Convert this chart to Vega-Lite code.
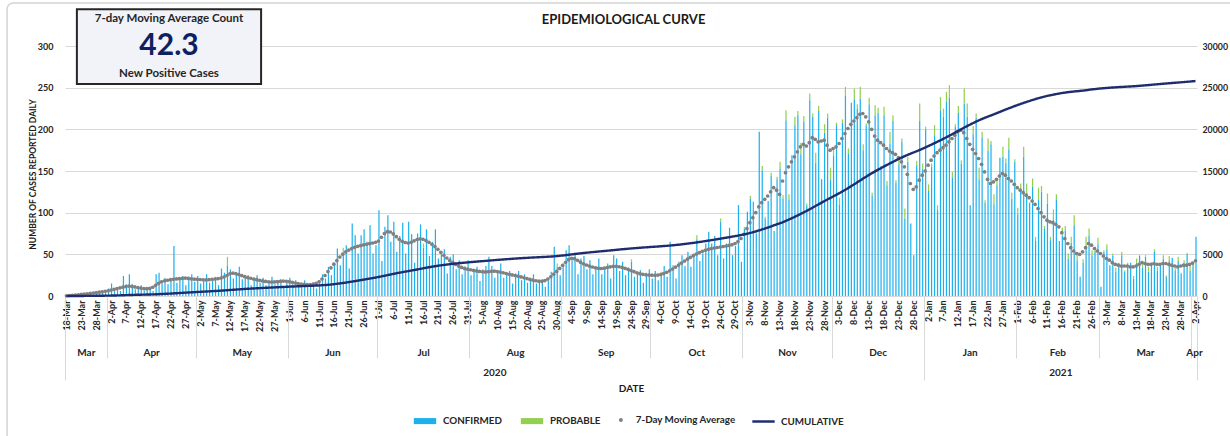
{
"$schema":"https://vega.github.io/schema/vega-lite/v6.json",
"width":1132,"height":250,"autosize":"none",
"padding":{"left":65,"top":46,"right":33,"bottom":140},
"background":"white",
"config":{"font":"Lato","view":{"stroke":null},"axis":{"labelFont":"Lato","titleFont":"Lato"},"legend":{"labelFont":"Lato"},"text":{"font":"Lato"}},
"data":{"values":[
{"date":"2020-03-18","confirmed":1,"probable":0,"ma":0.3,"cumulative":1},
{"date":"2020-03-19","confirmed":0,"probable":0,"ma":0.6,"cumulative":2},
{"date":"2020-03-20","confirmed":1,"probable":0,"ma":0.9,"cumulative":3},
{"date":"2020-03-21","confirmed":2,"probable":0,"ma":1.1,"cumulative":4},
{"date":"2020-03-22","confirmed":1,"probable":0,"ma":1.4,"cumulative":5},
{"date":"2020-03-23","confirmed":2,"probable":0,"ma":1.9,"cumulative":7},
{"date":"2020-03-24","confirmed":3,"probable":0,"ma":2.3,"cumulative":9},
{"date":"2020-03-25","confirmed":1,"probable":0,"ma":2.7,"cumulative":12},
{"date":"2020-03-26","confirmed":4,"probable":0,"ma":3.1,"cumulative":15},
{"date":"2020-03-27","confirmed":5,"probable":0,"ma":3.6,"cumulative":19},
{"date":"2020-03-28","confirmed":3,"probable":0,"ma":4.1,"cumulative":23},
{"date":"2020-03-29","confirmed":4,"probable":0,"ma":4.6,"cumulative":28},
{"date":"2020-03-30","confirmed":6,"probable":0,"ma":5.1,"cumulative":33},
{"date":"2020-03-31","confirmed":4,"probable":0,"ma":5.7,"cumulative":39},
{"date":"2020-04-01","confirmed":9,"probable":0,"ma":6.3,"cumulative":45},
{"date":"2020-04-02","confirmed":15,"probable":0,"ma":7.1,"cumulative":52},
{"date":"2020-04-03","confirmed":8,"probable":0,"ma":8,"cumulative":60},
{"date":"2020-04-04","confirmed":10,"probable":0,"ma":8.9,"cumulative":69},
{"date":"2020-04-05","confirmed":6,"probable":0,"ma":9.8,"cumulative":79},
{"date":"2020-04-06","confirmed":24,"probable":0,"ma":10.6,"cumulative":90},
{"date":"2020-04-07","confirmed":14,"probable":0,"ma":11.4,"cumulative":101},
{"date":"2020-04-08","confirmed":26,"probable":0,"ma":11.9,"cumulative":113},
{"date":"2020-04-09","confirmed":14,"probable":0,"ma":11.6,"cumulative":125},
{"date":"2020-04-10","confirmed":8,"probable":0,"ma":10.9,"cumulative":136},
{"date":"2020-04-11","confirmed":11,"probable":0,"ma":10.2,"cumulative":146},
{"date":"2020-04-12","confirmed":13,"probable":0,"ma":9.5,"cumulative":156},
{"date":"2020-04-13","confirmed":7,"probable":0,"ma":9,"cumulative":165},
{"date":"2020-04-14","confirmed":8,"probable":0,"ma":8.8,"cumulative":174},
{"date":"2020-04-15","confirmed":10,"probable":0,"ma":9.1,"cumulative":183},
{"date":"2020-04-16","confirmed":6,"probable":0,"ma":10.5,"cumulative":193},
{"date":"2020-04-17","confirmed":26,"probable":0,"ma":12.8,"cumulative":206},
{"date":"2020-04-18","confirmed":28,"probable":0,"ma":15.2,"cumulative":221},
{"date":"2020-04-19","confirmed":15,"probable":0,"ma":17.1,"cumulative":238},
{"date":"2020-04-20","confirmed":22,"probable":0,"ma":18.3,"cumulative":256},
{"date":"2020-04-21","confirmed":14,"probable":0,"ma":18.9,"cumulative":275},
{"date":"2020-04-22","confirmed":21,"probable":0,"ma":19.6,"cumulative":295},
{"date":"2020-04-23","confirmed":60,"probable":0,"ma":20.1,"cumulative":315},
{"date":"2020-04-24","confirmed":16,"probable":0,"ma":20.5,"cumulative":335},
{"date":"2020-04-25","confirmed":20,"probable":0,"ma":20.8,"cumulative":356},
{"date":"2020-04-26","confirmed":24,"probable":0,"ma":21.2,"cumulative":377},
{"date":"2020-04-27","confirmed":13,"probable":0,"ma":21.5,"cumulative":399},
{"date":"2020-04-28","confirmed":23,"probable":0,"ma":21.1,"cumulative":420},
{"date":"2020-04-29","confirmed":26,"probable":0,"ma":20.6,"cumulative":441},
{"date":"2020-04-30","confirmed":17,"probable":0,"ma":20.2,"cumulative":461},
{"date":"2020-05-01","confirmed":24,"probable":0,"ma":20,"cumulative":481},
{"date":"2020-05-02","confirmed":15,"probable":0,"ma":19.8,"cumulative":501},
{"date":"2020-05-03","confirmed":20,"probable":0,"ma":19.5,"cumulative":520},
{"date":"2020-05-04","confirmed":26,"probable":0,"ma":19.3,"cumulative":539},
{"date":"2020-05-05","confirmed":16,"probable":0,"ma":19.6,"cumulative":559},
{"date":"2020-05-06","confirmed":19,"probable":0,"ma":20.1,"cumulative":579},
{"date":"2020-05-07","confirmed":23,"probable":0,"ma":20.4,"cumulative":599},
{"date":"2020-05-08","confirmed":13,"probable":0,"ma":20.9,"cumulative":620},
{"date":"2020-05-09","confirmed":33,"probable":0,"ma":21.6,"cumulative":642},
{"date":"2020-05-10","confirmed":28,"probable":0,"ma":22.8,"cumulative":665},
{"date":"2020-05-11","confirmed":36,"probable":11,"ma":24.6,"cumulative":690},
{"date":"2020-05-12","confirmed":32,"probable":0,"ma":26.7,"cumulative":717},
{"date":"2020-05-13","confirmed":21,"probable":0,"ma":27.4,"cumulative":744},
{"date":"2020-05-14","confirmed":28,"probable":0,"ma":26.9,"cumulative":771},
{"date":"2020-05-15","confirmed":35,"probable":0,"ma":25.8,"cumulative":797},
{"date":"2020-05-16","confirmed":20,"probable":0,"ma":24.5,"cumulative":822},
{"date":"2020-05-17","confirmed":22,"probable":0,"ma":23.2,"cumulative":845},
{"date":"2020-05-18","confirmed":25,"probable":0,"ma":22.1,"cumulative":867},
{"date":"2020-05-19","confirmed":13,"probable":0,"ma":21.3,"cumulative":888},
{"date":"2020-05-20","confirmed":22,"probable":0,"ma":20.4,"cumulative":908},
{"date":"2020-05-21","confirmed":25,"probable":0,"ma":19.6,"cumulative":928},
{"date":"2020-05-22","confirmed":16,"probable":0,"ma":18.8,"cumulative":947},
{"date":"2020-05-23","confirmed":22,"probable":0,"ma":18.1,"cumulative":965},
{"date":"2020-05-24","confirmed":13,"probable":0,"ma":17.5,"cumulative":982},
{"date":"2020-05-25","confirmed":18,"probable":0,"ma":17.1,"cumulative":999},
{"date":"2020-05-26","confirmed":23,"probable":0,"ma":16.8,"cumulative":1016},
{"date":"2020-05-27","confirmed":14,"probable":0,"ma":16.9,"cumulative":1033},
{"date":"2020-05-28","confirmed":16,"probable":0,"ma":17.2,"cumulative":1050},
{"date":"2020-05-29","confirmed":20,"probable":0,"ma":17.6,"cumulative":1068},
{"date":"2020-05-30","confirmed":11,"probable":0,"ma":17.9,"cumulative":1086},
{"date":"2020-05-31","confirmed":19,"probable":0,"ma":17.7,"cumulative":1104},
{"date":"2020-06-01","confirmed":22,"probable":0,"ma":17.2,"cumulative":1121},
{"date":"2020-06-02","confirmed":14,"probable":0,"ma":16.4,"cumulative":1137},
{"date":"2020-06-03","confirmed":19,"probable":0,"ma":15.6,"cumulative":1153},
{"date":"2020-06-04","confirmed":11,"probable":0,"ma":14.9,"cumulative":1168},
{"date":"2020-06-05","confirmed":15,"probable":0,"ma":14.3,"cumulative":1182},
{"date":"2020-06-06","confirmed":19,"probable":0,"ma":13.9,"cumulative":1196},
{"date":"2020-06-07","confirmed":11,"probable":0,"ma":13.6,"cumulative":1210},
{"date":"2020-06-08","confirmed":13,"probable":0,"ma":13.8,"cumulative":1224},
{"date":"2020-06-09","confirmed":16,"probable":0,"ma":14.3,"cumulative":1238},
{"date":"2020-06-10","confirmed":9,"probable":0,"ma":15.2,"cumulative":1253},
{"date":"2020-06-11","confirmed":19,"probable":0,"ma":17.1,"cumulative":1270},
{"date":"2020-06-12","confirmed":26,"probable":0,"ma":20.4,"cumulative":1290},
{"date":"2020-06-13","confirmed":21,"probable":0,"ma":24.6,"cumulative":1315},
{"date":"2020-06-14","confirmed":35,"probable":0,"ma":29.3,"cumulative":1344},
{"date":"2020-06-15","confirmed":25,"probable":0,"ma":33.8,"cumulative":1378},
{"date":"2020-06-16","confirmed":40,"probable":0,"ma":38.2,"cumulative":1416},
{"date":"2020-06-17","confirmed":57,"probable":0,"ma":42.5,"cumulative":1459},
{"date":"2020-06-18","confirmed":37,"probable":0,"ma":46.8,"cumulative":1506},
{"date":"2020-06-19","confirmed":48,"probable":10,"ma":50.2,"cumulative":1556},
{"date":"2020-06-20","confirmed":61,"probable":0,"ma":52.9,"cumulative":1609},
{"date":"2020-06-21","confirmed":33,"probable":0,"ma":55.1,"cumulative":1664},
{"date":"2020-06-22","confirmed":87,"probable":0,"ma":56.9,"cumulative":1721},
{"date":"2020-06-23","confirmed":73,"probable":0,"ma":58.4,"cumulative":1779},
{"date":"2020-06-24","confirmed":51,"probable":0,"ma":59.6,"cumulative":1839},
{"date":"2020-06-25","confirmed":73,"probable":0,"ma":60.5,"cumulative":1899},
{"date":"2020-06-26","confirmed":80,"probable":0,"ma":61.3,"cumulative":1960},
{"date":"2020-06-27","confirmed":65,"probable":0,"ma":62.1,"cumulative":2022},
{"date":"2020-06-28","confirmed":85,"probable":0,"ma":62.9,"cumulative":2085},
{"date":"2020-06-29","confirmed":51,"probable":0,"ma":63.6,"cumulative":2149},
{"date":"2020-06-30","confirmed":61,"probable":0,"ma":64.5,"cumulative":2213},
{"date":"2020-07-01","confirmed":103,"probable":0,"ma":66,"cumulative":2279},
{"date":"2020-07-02","confirmed":42,"probable":0,"ma":70.5,"cumulative":2350},
{"date":"2020-07-03","confirmed":83,"probable":0,"ma":75,"cumulative":2425},
{"date":"2020-07-04","confirmed":97,"probable":0,"ma":77.2,"cumulative":2502},
{"date":"2020-07-05","confirmed":65,"probable":0,"ma":76.8,"cumulative":2579},
{"date":"2020-07-06","confirmed":89,"probable":0,"ma":74.5,"cumulative":2653},
{"date":"2020-07-07","confirmed":53,"probable":0,"ma":71.2,"cumulative":2724},
{"date":"2020-07-08","confirmed":72,"probable":0,"ma":68.1,"cumulative":2792},
{"date":"2020-07-09","confirmed":88,"probable":0,"ma":65.7,"cumulative":2858},
{"date":"2020-07-10","confirmed":51,"probable":0,"ma":64.2,"cumulative":2922},
{"date":"2020-07-11","confirmed":89,"probable":0,"ma":63.6,"cumulative":2986},
{"date":"2020-07-12","confirmed":74,"probable":0,"ma":64.5,"cumulative":3050},
{"date":"2020-07-13","confirmed":40,"probable":0,"ma":66.2,"cumulative":3116},
{"date":"2020-07-14","confirmed":75,"probable":0,"ma":67.8,"cumulative":3184},
{"date":"2020-07-15","confirmed":86,"probable":0,"ma":68.6,"cumulative":3253},
{"date":"2020-07-16","confirmed":58,"probable":5,"ma":68.1,"cumulative":3321},
{"date":"2020-07-17","confirmed":80,"probable":0,"ma":66.5,"cumulative":3388},
{"date":"2020-07-18","confirmed":48,"probable":0,"ma":64.4,"cumulative":3452},
{"date":"2020-07-19","confirmed":65,"probable":0,"ma":62.1,"cumulative":3514},
{"date":"2020-07-20","confirmed":80,"probable":0,"ma":59.3,"cumulative":3573},
{"date":"2020-07-21","confirmed":45,"probable":0,"ma":56,"cumulative":3629},
{"date":"2020-07-22","confirmed":50,"probable":0,"ma":52.4,"cumulative":3681},
{"date":"2020-07-23","confirmed":56,"probable":0,"ma":48.9,"cumulative":3730},
{"date":"2020-07-24","confirmed":27,"probable":0,"ma":45.6,"cumulative":3776},
{"date":"2020-07-25","confirmed":47,"probable":0,"ma":42.7,"cumulative":3819},
{"date":"2020-07-26","confirmed":50,"probable":0,"ma":40.1,"cumulative":3859},
{"date":"2020-07-27","confirmed":32,"probable":0,"ma":37.8,"cumulative":3897},
{"date":"2020-07-28","confirmed":43,"probable":0,"ma":35.9,"cumulative":3933},
{"date":"2020-07-29","confirmed":26,"probable":0,"ma":34.3,"cumulative":3967},
{"date":"2020-07-30","confirmed":35,"probable":0,"ma":33.1,"cumulative":4000},
{"date":"2020-07-31","confirmed":43,"probable":0,"ma":32.2,"cumulative":4032},
{"date":"2020-08-01","confirmed":25,"probable":0,"ma":31.5,"cumulative":4064},
{"date":"2020-08-02","confirmed":29,"probable":0,"ma":30.8,"cumulative":4095},
{"date":"2020-08-03","confirmed":35,"probable":0,"ma":30.1,"cumulative":4125},
{"date":"2020-08-04","confirmed":18,"probable":0,"ma":29.5,"cumulative":4154},
{"date":"2020-08-05","confirmed":32,"probable":0,"ma":29.1,"cumulative":4183},
{"date":"2020-08-06","confirmed":36,"probable":0,"ma":28.9,"cumulative":4212},
{"date":"2020-08-07","confirmed":47,"probable":0,"ma":29.2,"cumulative":4241},
{"date":"2020-08-08","confirmed":36,"probable":0,"ma":29.6,"cumulative":4271},
{"date":"2020-08-09","confirmed":22,"probable":0,"ma":29.8,"cumulative":4301},
{"date":"2020-08-10","confirmed":31,"probable":0,"ma":29.4,"cumulative":4330},
{"date":"2020-08-11","confirmed":39,"probable":0,"ma":28.7,"cumulative":4359},
{"date":"2020-08-12","confirmed":22,"probable":0,"ma":27.9,"cumulative":4387},
{"date":"2020-08-13","confirmed":26,"probable":0,"ma":27,"cumulative":4414},
{"date":"2020-08-14","confirmed":30,"probable":0,"ma":26.1,"cumulative":4440},
{"date":"2020-08-15","confirmed":15,"probable":0,"ma":25.3,"cumulative":4465},
{"date":"2020-08-16","confirmed":27,"probable":0,"ma":24.6,"cumulative":4490},
{"date":"2020-08-17","confirmed":30,"probable":0,"ma":23.8,"cumulative":4514},
{"date":"2020-08-18","confirmed":19,"probable":0,"ma":22.9,"cumulative":4537},
{"date":"2020-08-19","confirmed":26,"probable":0,"ma":21.9,"cumulative":4559},
{"date":"2020-08-20","confirmed":16,"probable":0,"ma":20.9,"cumulative":4580},
{"date":"2020-08-21","confirmed":21,"probable":0,"ma":19.9,"cumulative":4600},
{"date":"2020-08-22","confirmed":26,"probable":0,"ma":19,"cumulative":4619},
{"date":"2020-08-23","confirmed":15,"probable":0,"ma":18.3,"cumulative":4637},
{"date":"2020-08-24","confirmed":17,"probable":0,"ma":17.8,"cumulative":4655},
{"date":"2020-08-25","confirmed":20,"probable":0,"ma":17.6,"cumulative":4673},
{"date":"2020-08-26","confirmed":11,"probable":0,"ma":18.5,"cumulative":4691},
{"date":"2020-08-27","confirmed":22,"probable":0,"ma":20.4,"cumulative":4711},
{"date":"2020-08-28","confirmed":29,"probable":0,"ma":23.1,"cumulative":4734},
{"date":"2020-08-29","confirmed":59,"probable":0,"ma":26.2,"cumulative":4760},
{"date":"2020-08-30","confirmed":35,"probable":4,"ma":29.5,"cumulative":4790},
{"date":"2020-08-31","confirmed":25,"probable":0,"ma":33.1,"cumulative":4823},
{"date":"2020-09-01","confirmed":39,"probable":0,"ma":36.8,"cumulative":4860},
{"date":"2020-09-02","confirmed":55,"probable":0,"ma":40.5,"cumulative":4900},
{"date":"2020-09-03","confirmed":61,"probable":0,"ma":43.6,"cumulative":4944},
{"date":"2020-09-04","confirmed":43,"probable":0,"ma":45.2,"cumulative":4989},
{"date":"2020-09-05","confirmed":52,"probable":0,"ma":44.8,"cumulative":5034},
{"date":"2020-09-06","confirmed":26,"probable":0,"ma":42.9,"cumulative":5077},
{"date":"2020-09-07","confirmed":45,"probable":0,"ma":40.6,"cumulative":5118},
{"date":"2020-09-08","confirmed":48,"probable":0,"ma":38.7,"cumulative":5157},
{"date":"2020-09-09","confirmed":32,"probable":0,"ma":37.2,"cumulative":5194},
{"date":"2020-09-10","confirmed":43,"probable":0,"ma":35.9,"cumulative":5230},
{"date":"2020-09-11","confirmed":26,"probable":0,"ma":34.8,"cumulative":5265},
{"date":"2020-09-12","confirmed":36,"probable":0,"ma":33.9,"cumulative":5299},
{"date":"2020-09-13","confirmed":45,"probable":0,"ma":33.2,"cumulative":5332},
{"date":"2020-09-14","confirmed":26,"probable":0,"ma":33,"cumulative":5365},
{"date":"2020-09-15","confirmed":32,"probable":0,"ma":33.4,"cumulative":5398},
{"date":"2020-09-16","confirmed":39,"probable":0,"ma":34.2,"cumulative":5432},
{"date":"2020-09-17","confirmed":21,"probable":0,"ma":35,"cumulative":5467},
{"date":"2020-09-18","confirmed":49,"probable":0,"ma":35.5,"cumulative":5503},
{"date":"2020-09-19","confirmed":45,"probable":0,"ma":35.6,"cumulative":5539},
{"date":"2020-09-20","confirmed":30,"probable":0,"ma":35.1,"cumulative":5574},
{"date":"2020-09-21","confirmed":41,"probable":0,"ma":34.3,"cumulative":5608},
{"date":"2020-09-22","confirmed":25,"probable":0,"ma":33.2,"cumulative":5641},
{"date":"2020-09-23","confirmed":34,"probable":0,"ma":32,"cumulative":5673},
{"date":"2020-09-24","confirmed":41,"probable":3,"ma":30.6,"cumulative":5704},
{"date":"2020-09-25","confirmed":23,"probable":0,"ma":29.2,"cumulative":5733},
{"date":"2020-09-26","confirmed":27,"probable":0,"ma":27.9,"cumulative":5761},
{"date":"2020-09-27","confirmed":31,"probable":0,"ma":26.8,"cumulative":5788},
{"date":"2020-09-28","confirmed":16,"probable":0,"ma":26,"cumulative":5814},
{"date":"2020-09-29","confirmed":28,"probable":0,"ma":25.5,"cumulative":5840},
{"date":"2020-09-30","confirmed":32,"probable":0,"ma":25.2,"cumulative":5865},
{"date":"2020-10-01","confirmed":21,"probable":0,"ma":25,"cumulative":5890},
{"date":"2020-10-02","confirmed":30,"probable":0,"ma":24.9,"cumulative":5915},
{"date":"2020-10-03","confirmed":19,"probable":0,"ma":25.1,"cumulative":5940},
{"date":"2020-10-04","confirmed":27,"probable":2,"ma":25.8,"cumulative":5966},
{"date":"2020-10-05","confirmed":36,"probable":0,"ma":26.9,"cumulative":5993},
{"date":"2020-10-06","confirmed":23,"probable":0,"ma":28.4,"cumulative":6021},
{"date":"2020-10-07","confirmed":65,"probable":0,"ma":30.3,"cumulative":6051},
{"date":"2020-10-08","confirmed":37,"probable":0,"ma":32.4,"cumulative":6083},
{"date":"2020-10-09","confirmed":21,"probable":0,"ma":34.7,"cumulative":6118},
{"date":"2020-10-10","confirmed":41,"probable":0,"ma":37.1,"cumulative":6155},
{"date":"2020-10-11","confirmed":49,"probable":0,"ma":39.5,"cumulative":6195},
{"date":"2020-10-12","confirmed":36,"probable":0,"ma":41.9,"cumulative":6237},
{"date":"2020-10-13","confirmed":53,"probable":0,"ma":44.2,"cumulative":6281},
{"date":"2020-10-14","confirmed":35,"probable":0,"ma":46.4,"cumulative":6327},
{"date":"2020-10-15","confirmed":51,"probable":0,"ma":48.5,"cumulative":6376},
{"date":"2020-10-16","confirmed":68,"probable":5,"ma":50.4,"cumulative":6426},
{"date":"2020-10-17","confirmed":42,"probable":0,"ma":52.1,"cumulative":6478},
{"date":"2020-10-18","confirmed":51,"probable":0,"ma":53.6,"cumulative":6532},
{"date":"2020-10-19","confirmed":63,"probable":0,"ma":54.9,"cumulative":6587},
{"date":"2020-10-20","confirmed":77,"probable":0,"ma":56,"cumulative":6643},
{"date":"2020-10-21","confirmed":63,"probable":0,"ma":56.9,"cumulative":6700},
{"date":"2020-10-22","confirmed":72,"probable":0,"ma":57.6,"cumulative":6758},
{"date":"2020-10-23","confirmed":49,"probable":0,"ma":58.2,"cumulative":6816},
{"date":"2020-10-24","confirmed":89,"probable":4,"ma":58.8,"cumulative":6875},
{"date":"2020-10-25","confirmed":45,"probable":0,"ma":59.4,"cumulative":6934},
{"date":"2020-10-26","confirmed":63,"probable":0,"ma":60,"cumulative":6994},
{"date":"2020-10-27","confirmed":82,"probable":0,"ma":60.7,"cumulative":7055},
{"date":"2020-10-28","confirmed":49,"probable":0,"ma":61.6,"cumulative":7117},
{"date":"2020-10-29","confirmed":60,"probable":0,"ma":63,"cumulative":7180},
{"date":"2020-10-30","confirmed":109,"probable":0,"ma":65.3,"cumulative":7245},
{"date":"2020-10-31","confirmed":41,"probable":0,"ma":69,"cumulative":7314},
{"date":"2020-11-01","confirmed":81,"probable":2,"ma":74,"cumulative":7388},
{"date":"2020-11-02","confirmed":101,"probable":0,"ma":81,"cumulative":7469},
{"date":"2020-11-03","confirmed":117,"probable":3,"ma":88,"cumulative":7557},
{"date":"2020-11-04","confirmed":113,"probable":0,"ma":94,"cumulative":7651},
{"date":"2020-11-05","confirmed":75,"probable":4,"ma":100,"cumulative":7751},
{"date":"2020-11-06","confirmed":197,"probable":0,"ma":107,"cumulative":7858},
{"date":"2020-11-07","confirmed":151,"probable":5,"ma":112,"cumulative":7970},
{"date":"2020-11-08","confirmed":93,"probable":2,"ma":116,"cumulative":8086},
{"date":"2020-11-09","confirmed":114,"probable":0,"ma":120,"cumulative":8206},
{"date":"2020-11-10","confirmed":144,"probable":4,"ma":125,"cumulative":8331},
{"date":"2020-11-11","confirmed":78,"probable":0,"ma":130,"cumulative":8461},
{"date":"2020-11-12","confirmed":140,"probable":3,"ma":127,"cumulative":8588},
{"date":"2020-11-13","confirmed":153,"probable":8,"ma":122,"cumulative":8710},
{"date":"2020-11-14","confirmed":117,"probable":4,"ma":138,"cumulative":8848},
{"date":"2020-11-15","confirmed":211,"probable":12,"ma":148,"cumulative":8996},
{"date":"2020-11-16","confirmed":116,"probable":6,"ma":155,"cumulative":9151},
{"date":"2020-11-17","confirmed":169,"probable":0,"ma":161,"cumulative":9312},
{"date":"2020-11-18","confirmed":205,"probable":10,"ma":167,"cumulative":9479},
{"date":"2020-11-19","confirmed":217,"probable":5,"ma":173,"cumulative":9652},
{"date":"2020-11-20","confirmed":170,"probable":14,"ma":179,"cumulative":9831},
{"date":"2020-11-21","confirmed":209,"probable":7,"ma":182,"cumulative":10013},
{"date":"2020-11-22","confirmed":108,"probable":3,"ma":180,"cumulative":10193},
{"date":"2020-11-23","confirmed":235,"probable":8,"ma":184,"cumulative":10377},
{"date":"2020-11-24","confirmed":215,"probable":4,"ma":190,"cumulative":10578},
{"date":"2020-11-25","confirmed":160,"probable":12,"ma":188,"cumulative":10777},
{"date":"2020-11-26","confirmed":222,"probable":6,"ma":185,"cumulative":10974},
{"date":"2020-11-27","confirmed":140,"probable":0,"ma":186,"cumulative":11171},
{"date":"2020-11-28","confirmed":196,"probable":10,"ma":187,"cumulative":11369},
{"date":"2020-11-29","confirmed":214,"probable":5,"ma":181,"cumulative":11562},
{"date":"2020-11-30","confirmed":140,"probable":14,"ma":175,"cumulative":11748},
{"date":"2020-12-01","confirmed":168,"probable":7,"ma":177,"cumulative":11936},
{"date":"2020-12-02","confirmed":205,"probable":3,"ma":179,"cumulative":12126},
{"date":"2020-12-03","confirmed":110,"probable":8,"ma":183,"cumulative":12321},
{"date":"2020-12-04","confirmed":208,"probable":4,"ma":189,"cumulative":12521},
{"date":"2020-12-05","confirmed":240,"probable":11,"ma":195,"cumulative":12727},
{"date":"2020-12-06","confirmed":171,"probable":6,"ma":201,"cumulative":12939},
{"date":"2020-12-07","confirmed":232,"probable":0,"ma":206,"cumulative":13157},
{"date":"2020-12-08","confirmed":236,"probable":13,"ma":210,"cumulative":13378},
{"date":"2020-12-09","confirmed":225,"probable":5,"ma":214,"cumulative":13603},
{"date":"2020-12-10","confirmed":237,"probable":14,"ma":218,"cumulative":13832},
{"date":"2020-12-11","confirmed":175,"probable":7,"ma":219,"cumulative":14063},
{"date":"2020-12-12","confirmed":204,"probable":3,"ma":215,"cumulative":14289},
{"date":"2020-12-13","confirmed":230,"probable":8,"ma":209,"cumulative":14509},
{"date":"2020-12-14","confirmed":120,"probable":4,"ma":200,"cumulative":14720},
{"date":"2020-12-15","confirmed":217,"probable":12,"ma":192,"cumulative":14924},
{"date":"2020-12-16","confirmed":220,"probable":6,"ma":187,"cumulative":15122},
{"date":"2020-12-17","confirmed":156,"probable":0,"ma":184,"cumulative":15317},
{"date":"2020-12-18","confirmed":217,"probable":10,"ma":181,"cumulative":15509},
{"date":"2020-12-19","confirmed":133,"probable":5,"ma":177,"cumulative":15698},
{"date":"2020-12-20","confirmed":183,"probable":14,"ma":174,"cumulative":15883},
{"date":"2020-12-21","confirmed":210,"probable":7,"ma":172,"cumulative":16066},
{"date":"2020-12-22","confirmed":136,"probable":3,"ma":170,"cumulative":16247},
{"date":"2020-12-23","confirmed":158,"probable":8,"ma":166,"cumulative":16425},
{"date":"2020-12-24","confirmed":185,"probable":4,"ma":161,"cumulative":16597},
{"date":"2020-12-25","confirmed":93,"probable":12,"ma":155,"cumulative":16763},
{"date":"2020-12-26","confirmed":161,"probable":6,"ma":146,"cumulative":16920},
{"date":"2020-12-27","confirmed":87,"probable":0,"ma":135,"cumulative":17067},
{"date":"2020-12-28","confirmed":49,"probable":0,"ma":128,"cumulative":17206},
{"date":"2020-12-29","confirmed":157,"probable":5,"ma":131,"cumulative":17348},
{"date":"2020-12-30","confirmed":210,"probable":21,"ma":139,"cumulative":17498},
{"date":"2020-12-31","confirmed":152,"probable":7,"ma":145,"cumulative":17655},
{"date":"2021-01-01","confirmed":200,"probable":3,"ma":150,"cumulative":17816},
{"date":"2021-01-02","confirmed":126,"probable":8,"ma":157,"cumulative":17984},
{"date":"2021-01-03","confirmed":155,"probable":4,"ma":163,"cumulative":18147},
{"date":"2021-01-04","confirmed":193,"probable":12,"ma":168,"cumulative":18315},
{"date":"2021-01-05","confirmed":103,"probable":6,"ma":172,"cumulative":18487},
{"date":"2021-01-06","confirmed":223,"probable":16,"ma":175,"cumulative":18662},
{"date":"2021-01-07","confirmed":215,"probable":10,"ma":178,"cumulative":18840},
{"date":"2021-01-08","confirmed":233,"probable":12,"ma":181,"cumulative":19021},
{"date":"2021-01-09","confirmed":238,"probable":15,"ma":185,"cumulative":19206},
{"date":"2021-01-10","confirmed":142,"probable":7,"ma":189,"cumulative":19395},
{"date":"2021-01-11","confirmed":203,"probable":3,"ma":193,"cumulative":19588},
{"date":"2021-01-12","confirmed":220,"probable":8,"ma":197,"cumulative":19785},
{"date":"2021-01-13","confirmed":159,"probable":4,"ma":199,"cumulative":19984},
{"date":"2021-01-14","confirmed":231,"probable":18,"ma":196,"cumulative":20180},
{"date":"2021-01-15","confirmed":215,"probable":16,"ma":189,"cumulative":20369},
{"date":"2021-01-16","confirmed":109,"probable":0,"ma":182,"cumulative":20551},
{"date":"2021-01-17","confirmed":194,"probable":10,"ma":176,"cumulative":20727},
{"date":"2021-01-18","confirmed":214,"probable":5,"ma":171,"cumulative":20898},
{"date":"2021-01-19","confirmed":140,"probable":14,"ma":165,"cumulative":21063},
{"date":"2021-01-20","confirmed":190,"probable":7,"ma":158,"cumulative":21221},
{"date":"2021-01-21","confirmed":112,"probable":3,"ma":149,"cumulative":21370},
{"date":"2021-01-22","confirmed":174,"probable":15,"ma":140,"cumulative":21510},
{"date":"2021-01-23","confirmed":182,"probable":4,"ma":135,"cumulative":21645},
{"date":"2021-01-24","confirmed":110,"probable":12,"ma":137,"cumulative":21782},
{"date":"2021-01-25","confirmed":133,"probable":6,"ma":140,"cumulative":21922},
{"date":"2021-01-26","confirmed":166,"probable":0,"ma":144,"cumulative":22066},
{"date":"2021-01-27","confirmed":167,"probable":12,"ma":147,"cumulative":22213},
{"date":"2021-01-28","confirmed":160,"probable":5,"ma":145,"cumulative":22358},
{"date":"2021-01-29","confirmed":176,"probable":14,"ma":141,"cumulative":22499},
{"date":"2021-01-30","confirmed":117,"probable":7,"ma":138,"cumulative":22637},
{"date":"2021-01-31","confirmed":161,"probable":3,"ma":134,"cumulative":22771},
{"date":"2021-02-01","confirmed":98,"probable":8,"ma":130,"cumulative":22901},
{"date":"2021-02-02","confirmed":125,"probable":10,"ma":127,"cumulative":23028},
{"date":"2021-02-03","confirmed":167,"probable":12,"ma":124,"cumulative":23152},
{"date":"2021-02-04","confirmed":124,"probable":11,"ma":121,"cumulative":23273},
{"date":"2021-02-05","confirmed":112,"probable":0,"ma":118,"cumulative":23391},
{"date":"2021-02-06","confirmed":131,"probable":10,"ma":114,"cumulative":23505},
{"date":"2021-02-07","confirmed":66,"probable":5,"ma":110,"cumulative":23615},
{"date":"2021-02-08","confirmed":116,"probable":14,"ma":105,"cumulative":23720},
{"date":"2021-02-09","confirmed":125,"probable":7,"ma":100,"cumulative":23820},
{"date":"2021-02-10","confirmed":81,"probable":3,"ma":95,"cumulative":23915},
{"date":"2021-02-11","confirmed":111,"probable":12,"ma":91,"cumulative":24006},
{"date":"2021-02-12","confirmed":67,"probable":4,"ma":89,"cumulative":24080},
{"date":"2021-02-13","confirmed":92,"probable":12,"ma":88,"cumulative":24153},
{"date":"2021-02-14","confirmed":116,"probable":6,"ma":86,"cumulative":24224},
{"date":"2021-02-15","confirmed":66,"probable":0,"ma":83,"cumulative":24292},
{"date":"2021-02-16","confirmed":72,"probable":10,"ma":76,"cumulative":24353},
{"date":"2021-02-17","confirmed":79,"probable":5,"ma":69,"cumulative":24407},
{"date":"2021-02-18","confirmed":45,"probable":6,"ma":63,"cumulative":24455},
{"date":"2021-02-19","confirmed":64,"probable":7,"ma":58,"cumulative":24498},
{"date":"2021-02-20","confirmed":85,"probable":12,"ma":54,"cumulative":24537},
{"date":"2021-02-21","confirmed":43,"probable":8,"ma":51,"cumulative":24573},
{"date":"2021-02-22","confirmed":23,"probable":0,"ma":50,"cumulative":24608},
{"date":"2021-02-23","confirmed":40,"probable":4,"ma":53,"cumulative":24646},
{"date":"2021-02-24","confirmed":61,"probable":10,"ma":58,"cumulative":24689},
{"date":"2021-02-25","confirmed":72,"probable":9,"ma":63,"cumulative":24737},
{"date":"2021-02-26","confirmed":49,"probable":6,"ma":61,"cumulative":24783},
{"date":"2021-02-27","confirmed":54,"probable":5,"ma":57,"cumulative":24825},
{"date":"2021-02-28","confirmed":62,"probable":8,"ma":54,"cumulative":24864},
{"date":"2021-03-01","confirmed":11,"probable":0,"ma":51,"cumulative":24900},
{"date":"2021-03-02","confirmed":53,"probable":2,"ma":48,"cumulative":24933},
{"date":"2021-03-03","confirmed":56,"probable":6,"ma":45,"cumulative":24963},
{"date":"2021-03-04","confirmed":37,"probable":0,"ma":43,"cumulative":24991},
{"date":"2021-03-05","confirmed":48,"probable":3,"ma":40,"cumulative":25016},
{"date":"2021-03-06","confirmed":29,"probable":5,"ma":38,"cumulative":25039},
{"date":"2021-03-07","confirmed":39,"probable":1,"ma":37,"cumulative":25061},
{"date":"2021-03-08","confirmed":49,"probable":4,"ma":36,"cumulative":25082},
{"date":"2021-03-09","confirmed":29,"probable":2,"ma":36,"cumulative":25103},
{"date":"2021-03-10","confirmed":34,"probable":6,"ma":36,"cumulative":25124},
{"date":"2021-03-11","confirmed":40,"probable":0,"ma":35,"cumulative":25144},
{"date":"2021-03-12","confirmed":21,"probable":3,"ma":35,"cumulative":25164},
{"date":"2021-03-13","confirmed":40,"probable":5,"ma":36,"cumulative":25185},
{"date":"2021-03-14","confirmed":48,"probable":1,"ma":38,"cumulative":25215},
{"date":"2021-03-15","confirmed":34,"probable":4,"ma":40,"cumulative":25248},
{"date":"2021-03-16","confirmed":47,"probable":2,"ma":39,"cumulative":25279},
{"date":"2021-03-17","confirmed":29,"probable":6,"ma":38,"cumulative":25310},
{"date":"2021-03-18","confirmed":40,"probable":0,"ma":38,"cumulative":25340},
{"date":"2021-03-19","confirmed":53,"probable":3,"ma":39,"cumulative":25372},
{"date":"2021-03-20","confirmed":30,"probable":5,"ma":38,"cumulative":25402},
{"date":"2021-03-21","confirmed":36,"probable":1,"ma":38,"cumulative":25433},
{"date":"2021-03-22","confirmed":45,"probable":4,"ma":39,"cumulative":25464},
{"date":"2021-03-23","confirmed":23,"probable":2,"ma":39,"cumulative":25496},
{"date":"2021-03-24","confirmed":42,"probable":6,"ma":38,"cumulative":25526},
{"date":"2021-03-25","confirmed":46,"probable":0,"ma":37,"cumulative":25556},
{"date":"2021-03-26","confirmed":31,"probable":3,"ma":36,"cumulative":25584},
{"date":"2021-03-27","confirmed":42,"probable":5,"ma":35,"cumulative":25612},
{"date":"2021-03-28","confirmed":27,"probable":1,"ma":36,"cumulative":25640},
{"date":"2021-03-29","confirmed":39,"probable":4,"ma":37,"cumulative":25670},
{"date":"2021-03-30","confirmed":50,"probable":2,"ma":37,"cumulative":25699},
{"date":"2021-03-31","confirmed":30,"probable":6,"ma":38,"cumulative":25730},
{"date":"2021-04-01","confirmed":38,"probable":3,"ma":39.5,"cumulative":25762},
{"date":"2021-04-02","confirmed":71,"probable":0,"ma":42.3,"cumulative":25797}
]},
"resolve":{"scale":{"y":"independent"},"axis":{"x":"independent","y":"independent"}},
"layer":[
{"transform":[{"fold":["confirmed","probable"],"as":["series","value"]}],
 "mark":{"type":"bar","width":{"band":0.75}},
 "encoding":{
  "x":{"field":"date","type":"temporal","timeUnit":"utcyearmonthdate","scale":{"type":"utc","domain":[1584489600000,1617408000000]},
   "axis":{"orient":"bottom","values":[1584532800000,1584964800000,1585396800000,1585828800000,1586260800000,1586692800000,1587124800000,1587556800000,1587988800000,1588420800000,1588852800000,1589284800000,1589716800000,1590148800000,1590580800000,1591012800000,1591444800000,1591876800000,1592308800000,1592740800000,1593172800000,1593604800000,1594036800000,1594468800000,1594900800000,1595332800000,1595764800000,1596196800000,1596628800000,1597060800000,1597492800000,1597924800000,1598356800000,1598788800000,1599220800000,1599652800000,1600084800000,1600516800000,1600948800000,1601380800000,1601812800000,1602244800000,1602676800000,1603108800000,1603540800000,1603972800000,1604404800000,1604836800000,1605268800000,1605700800000,1606132800000,1606564800000,1606996800000,1607428800000,1607860800000,1608292800000,1608724800000,1609156800000,1609588800000,1610020800000,1610452800000,1610884800000,1611316800000,1611748800000,1612180800000,1612612800000,1613044800000,1613476800000,1613908800000,1614340800000,1614772800000,1615204800000,1615636800000,1616068800000,1616500800000,1616932800000,1617364800000],
    "labelExpr":"utcFormat(datum.value, '%-d-%b')","labelAngle":-90,"labelFontSize":9,"labelFontWeight":"bold","labelColor":"#262626","labelPadding":4,"labelOverlap":false,"labelBound":false,"labelFlush":false,"ticks":false,"tickSize":0,"domain":false,"grid":false,
    "title":"DATE","titleFontSize":10,"titleFontWeight":"bold","titleColor":"#1a1a1a","titleX":566,"titleY":92,"titleAlign":"center","titleBaseline":"middle","titleAngle":0}},
  "y":{"field":"value","type":"quantitative","stack":"zero","scale":{"domain":[0,300],"nice":false},
   "axis":{"orient":"left","values":[0,50,100,150,200,250,300],"grid":true,"gridColor":"#d9d9d9","gridWidth":1,"domain":false,"ticks":false,"tickSize":0,"labelPadding":12,"labelFontSize":9,"labelFontWeight":"bold","labelColor":"#262626",
    "title":"NUMBER OF CASES REPORTED DAILY","titleFontSize":8.5,"titleFontWeight":"bold","titleColor":"#1a1a1a","titleX":-33,"titleY":128,"titleAngle":-90,"titleAlign":"center","titleBaseline":"middle"}},
  "order":{"field":"series","type":"nominal","sort":"ascending"},
  "color":{"field":"series","type":"nominal",
   "scale":{"domain":["confirmed","probable"],"range":["#1eb0ed","#92d050"]},
   "legend":{"orient":"none","legendX":348,"legendY":363,"direction":"horizontal","title":null,
    "labelExpr":"datum.label == 'confirmed' ? 'CONFIRMED' : 'PROBABLE'",
    "labelFontSize":9.8,"labelFontWeight":"bold","labelColor":"#262626","symbolType":"M-1,-0.27H1V0.27H-1Z","symbolSize":500,"labelOffset":6,"columnPadding":18}}
 }},
{"mark":{"type":"point","filled":true,"size":14,"opacity":1,"color":"#808080"},
 "encoding":{
  "x":{"field":"date","type":"temporal","timeUnit":"utcyearmonthdate","bandPosition":0.5,"scale":{"type":"utc","domain":[1584489600000,1617408000000]},
   "axis":{"orient":"bottom","values":[1585699200000,1588291200000,1590969600000,1593561600000,1596240000000,1598918400000,1601510400000,1604188800000,1606780800000,1612137600000,1614556800000,1617235200000],"labels":false,"ticks":true,"tickSize":62,"tickColor":"#d9d9d9","tickWidth":1,"domain":false,"grid":false,"title":null}},
  "y":{"field":"ma","type":"quantitative","scale":{"domain":[0,300],"nice":false},"axis":null},
  "shape":{"datum":"7-Day Moving Average","type":"nominal","scale":{"range":["circle"]},
   "legend":{"orient":"none","legendX":551,"legendY":369,"title":null,"labelFontSize":9.8,"labelFontWeight":"bold","labelColor":"#262626","labelOffset":10,"symbolSize":16,"symbolFillColor":"#808080","symbolStrokeWidth":0}}
 }},
{"mark":{"type":"line","strokeWidth":2.4,"color":"#1f2d6e"},
 "encoding":{
  "x":{"field":"date","type":"temporal","timeUnit":"utcyearmonthdate","bandPosition":0.5,"scale":{"type":"utc","domain":[1584489600000,1617408000000]},
   "axis":{"orient":"bottom","values":[1584489600000,1609459200000,1617408000000],"labels":false,"ticks":true,"tickSize":84,"tickColor":"#d9d9d9","tickWidth":1,"domain":false,"grid":false,"title":null}},
  "y":{"field":"cumulative","type":"quantitative","scale":{"domain":[0,30000],"nice":false},
   "axis":{"orient":"right","values":[0,5000,10000,15000,20000,25000,30000],"format":"d","grid":false,"domain":false,"ticks":false,"tickSize":0,"labelPadding":5,"labelFontSize":8.8,"labelFontWeight":"bold","labelColor":"#262626","title":null}},
  "strokeDash":{"datum":"CUMULATIVE","type":"nominal","scale":{"range":[[1,0]]},
   "legend":{"orient":"none","legendX":686,"legendY":363,"title":null,"labelFontSize":9.8,"labelFontWeight":"bold","labelColor":"#262626","labelOffset":5,"symbolType":"stroke","symbolSize":500,"symbolStrokeColor":"#1f2d6e","symbolStrokeWidth":2.5}}
 }},
{"mark":{"type":"point","opacity":0},
 "encoding":{
  "x":{"field":"date","type":"temporal","timeUnit":"utcyearmonthdate","scale":{"type":"utc","domain":[1584489600000,1617408000000]},
   "axis":{"orient":"bottom","values":[1585094400000,1586995200000,1589630400000,1592265600000,1594900800000,1597579200000,1600214400000,1602849600000,1605484800000,1608120000000,1610798400000,1613347200000,1615896000000,1617321600000],
    "labelExpr":"utcFormat(datum.value, '%b')","ticks":false,"tickSize":0,"domain":false,"grid":false,"labelPadding":56,"labelFontSize":10,"labelFontWeight":"bold","labelColor":"#262626","labelAngle":0,"labelOverlap":false,"labelFlush":false,"labelBound":false,"labelBaseline":"middle","title":null}}
 }},
{"mark":{"type":"point","opacity":0},
 "encoding":{
  "x":{"field":"date","type":"temporal","timeUnit":"utcyearmonthdate","scale":{"type":"utc","domain":[1584489600000,1617408000000]},
   "axis":{"orient":"bottom","values":[1596974400000,1613433600000],
    "labelExpr":"utcFormat(datum.value, '%Y')","ticks":false,"tickSize":0,"domain":false,"grid":false,"labelPadding":76,"labelFontSize":10,"labelFontWeight":"bold","labelColor":"#262626","labelAngle":0,"labelOverlap":false,"labelFlush":false,"labelBound":false,"labelBaseline":"middle","title":null}}
 }},
{"data":{"values":[{}]},
 "mark":{"type":"text","text":"EPIDEMIOLOGICAL CURVE","fontSize":13,"fontWeight":"bold","color":"#1a1a1a","align":"center","baseline":"middle"},
 "encoding":{
  "x":{"datum":1600732800000,"type":"temporal","scale":{"type":"utc","domain":[1584489600000,1617408000000]},"axis":null},
  "y":{"datum":331,"type":"quantitative","scale":{"domain":[0,300],"nice":false},"axis":null}
 }},
{"data":{"values":[{}]},
 "mark":{"type":"rect","fill":"#f2f3f8","stroke":"#262626","strokeWidth":2},
 "encoding":{
  "x":{"datum":1584835200000,"type":"temporal","scale":{"type":"utc","domain":[1584489600000,1617408000000]},"axis":null},
  "x2":{"datum":1590192000000},
  "y":{"datum":344,"type":"quantitative","scale":{"domain":[0,300],"nice":false},"axis":null},
  "y2":{"datum":254.5}
 }},
{"data":{"values":[{}]},
 "mark":{"type":"text","text":"7-day Moving Average Count","fontSize":11.5,"fontWeight":"bold","color":"#262626","align":"center","baseline":"middle"},
 "encoding":{
  "x":{"datum":1587513600000,"type":"temporal","scale":{"type":"utc","domain":[1584489600000,1617408000000]},"axis":null},
  "y":{"datum":332,"type":"quantitative","scale":{"domain":[0,300],"nice":false},"axis":null}
 }},
{"data":{"values":[{}]},
 "mark":{"type":"text","text":"42.3","fontSize":30,"fontWeight":"bold","color":"#0d2160","align":"center","baseline":"middle"},
 "encoding":{
  "x":{"datum":1587513600000,"type":"temporal","scale":{"type":"utc","domain":[1584489600000,1617408000000]},"axis":null},
  "y":{"datum":300,"type":"quantitative","scale":{"domain":[0,300],"nice":false},"axis":null}
 }},
{"data":{"values":[{}]},
 "mark":{"type":"text","text":"New Positive Cases","fontSize":11.5,"fontWeight":"bold","color":"#262626","align":"center","baseline":"middle"},
 "encoding":{
  "x":{"datum":1587513600000,"type":"temporal","scale":{"type":"utc","domain":[1584489600000,1617408000000]},"axis":null},
  "y":{"datum":267,"type":"quantitative","scale":{"domain":[0,300],"nice":false},"axis":null}
 }},
{"data":{"values":[{}]},
 "mark":{"type":"rect","fillOpacity":0,"fill":"white","stroke":"#d4d4d4","strokeWidth":1.5,"cornerRadius":6},
 "encoding":{
  "x":{"datum":1582804800000,"type":"temporal","scale":{"type":"utc","domain":[1584489600000,1617408000000]},"axis":null},
  "x2":{"datum":1618876800000},
  "y":{"datum":351.5,"type":"quantitative","scale":{"domain":[0,300],"nice":false},"axis":null},
  "y2":{"datum":-180}
 }}
]
}
